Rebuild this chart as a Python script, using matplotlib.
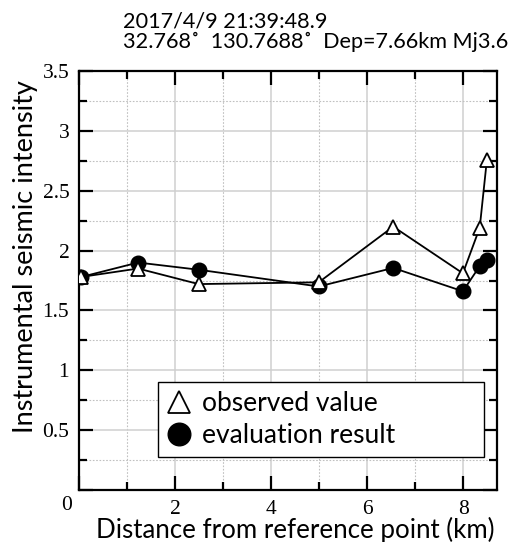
import matplotlib
matplotlib.use("Agg")
import matplotlib.pyplot as plt
from matplotlib.ticker import MultipleLocator, FuncFormatter

distance = [0.05, 1.23, 2.49, 4.99, 6.54, 7.99, 8.34, 8.49]
observed = [1.78, 1.85, 1.72, 1.735, 2.20, 1.81, 2.19, 2.76]
evaluated = [1.78, 1.90, 1.84, 1.70, 1.855, 1.66, 1.87, 1.92]

title_lines = ["2017/4/9 21:39:48.9", "32.768\u02da  130.7688\u02da  Dep=7.66km Mj3.6"]

plt.rcParams["font.family"] = ["Liberation Serif", "DejaVu Serif"]
sans = ["Lato", "DejaVu Sans"]

W, H = 517, 542
fig = plt.figure(figsize=(W / 100, H / 100), dpi=100)
ax = fig.add_axes([79 / W, 1 - 490 / H, (497 - 79) / W, (490 - 71) / H])

ax.plot(distance, evaluated, color="black", lw=1.3, marker="o", ms=10.5,
        mfc="black", mec="black", label="evaluation result", zorder=3)
ax.plot(distance, observed, color="black", lw=1.3, marker="^", ms=10,
        mfc="white", mec="black", mew=1.3, label="observed value", zorder=4)

ax.set_xlim(0, 8.7)
ax.set_ylim(0, 3.5)
ax.xaxis.set_major_locator(MultipleLocator(2))
ax.xaxis.set_minor_locator(MultipleLocator(1))
ax.yaxis.set_major_locator(MultipleLocator(0.5))
ax.yaxis.set_minor_locator(MultipleLocator(0.25))


def fmt(v, pos):
    if abs(v) < 1e-9:
        return ""
    return f"{v:g}"


ax.xaxis.set_major_formatter(FuncFormatter(fmt))
ax.yaxis.set_major_formatter(FuncFormatter(fmt))
ax.tick_params(which="both", direction="in", top=True, right=True, width=1.6)
ax.tick_params(which="major", length=10, labelsize=15.5, pad=7)
ax.tick_params(which="minor", length=6)
ax.grid(which="major", color="#cfcfcf", lw=1.1, ls="-")
ax.grid(which="minor", color="#c0c0c0", lw=0.8, ls=(0, (1.5, 1.5)))
ax.set_axisbelow(True)
for sp in ax.spines.values():
    sp.set_linewidth(1.6)

fig.text(67 / W, 1 - 505 / H, "0", fontsize=15.5, ha="center", va="center")

ax.set_xlabel("Distance from reference point (km)", fontsize=18.6, family=sans, labelpad=2)
ax.xaxis.set_label_coords((295 - 79) / 418, -0.065, transform=ax.transAxes)
ax.xaxis.label.set_va("top")
ax.set_ylabel("Instrumental seismic intensity", fontsize=19.5, family=sans, labelpad=3)
ax.yaxis.label.set_y((490 - 256.5) / 419)

handles, labels = ax.get_legend_handles_labels()
leg = ax.legend(handles[::-1], labels[::-1], loc="lower left", mode="expand",
                bbox_to_anchor=((158 - 79) / 418, (490 - 457) / 419, (484 - 158) / 418, 0.1),
                prop={"family": sans, "size": 19}, markerscale=1.55,
                frameon=True, fancybox=False, edgecolor="black", framealpha=1,
                handlelength=0.9, handletextpad=0.4, borderpad=0.35, labelspacing=0.25,
                borderaxespad=0)
leg.get_frame().set_linewidth(1.0)
for h in leg.legend_handles:
    h.set_linestyle("none")

fig.text(123 / W, 1 - 28 / H, title_lines[0], fontsize=15.6, family=sans, va="baseline")
fig.text(123 / W, 1 - 48 / H, title_lines[1], fontsize=15.6, family=sans, va="baseline")

fig.savefig("out.png", dpi=100)
